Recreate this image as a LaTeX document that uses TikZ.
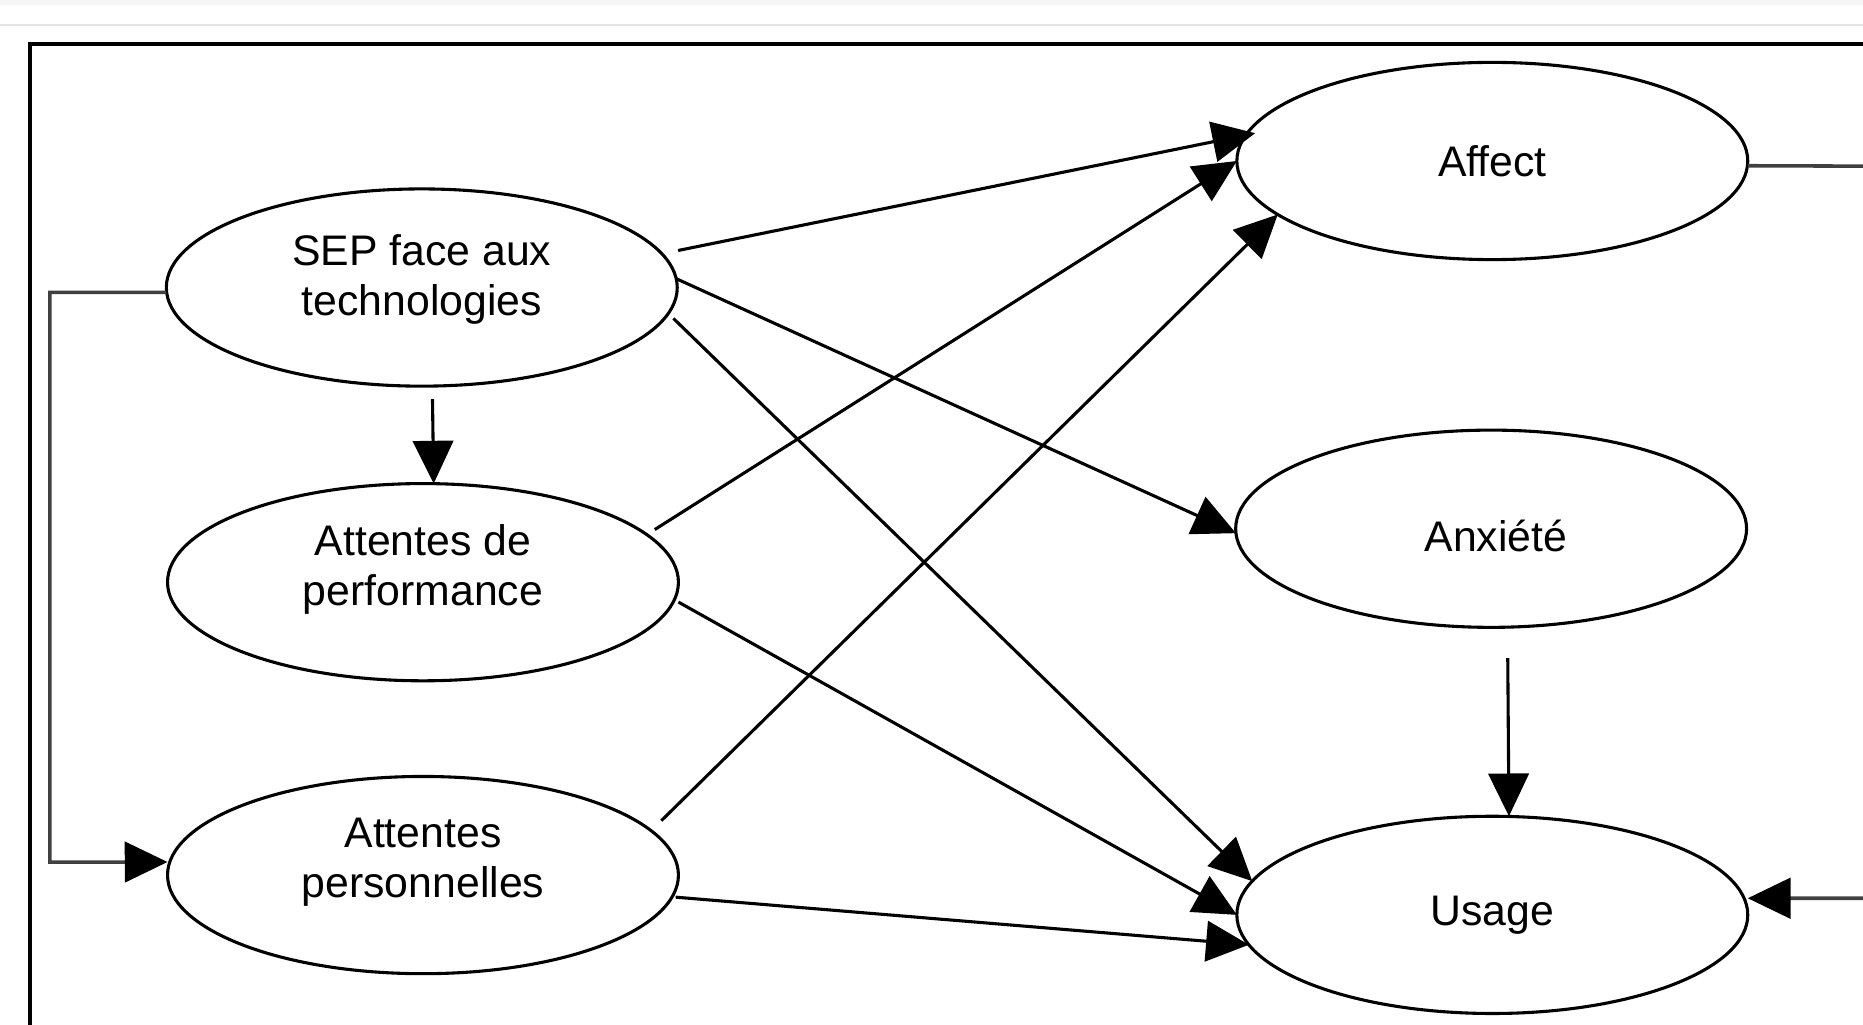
\documentclass[tikz,border=0pt]{standalone}
\usepackage{fontspec}
\setmainfont{Liberation Sans}
\usetikzlibrary{shapes.geometric,arrows.meta}
\begin{document}
\begin{tikzpicture}[x=0.5pt,y=-0.5pt,
  var/.style={ellipse,draw,line width=1.3pt,minimum width=215pt,minimum height=83pt,inner sep=0pt,outer sep=0pt},
  lbl/.style={align=center,font=\fontsize{18}{21}\selectfont,inner sep=0pt},
  arr/.style={line width=1.3pt,-{Triangle[length=18pt,width=17pt,color=black]}},
  loopl/.style={line width=1.5pt,black!75}]
\useasboundingbox (0,0) rectangle (1568,862);
\begin{scope}
\clip (0,0) rectangle (1568,862);
\fill[black!4] (0,0) rectangle (1568,4);
\draw[black!10,line width=0.8pt] (0,21) -- (1568,21);
\draw[line width=1.7pt] (25,920) |- (1620,37);

\node[var] (sep)    at (355,242)   {};
\node[var] (perf)   at (356,490)   {};
\node[var] (pers)   at (356,736.5) {};
\node[var] (affect) at (1256,135.5) {};
\node[var] (anx)    at (1255,445)  {};
\node[var] (usage)  at (1256,770)  {};

\node[lbl] (sepT)    at ([yshift=3.5pt]sep.center)   {SEP face aux\\technologies};
\node[lbl] (perfT)   at ([yshift=5.5pt]perf.center)  {Attentes de\\performance};
\node[lbl] (persT)   at ([yshift=5.5pt]pers.center)  {Attentes\\personnelles};
\node[lbl] (affectT) at (affect.center) {Affect};
\node[lbl] (anxT)    at ([xshift=2pt,yshift=-3pt]anx.center) {Anxiété};
\node[lbl] (usageT)  at (usage.center)  {Usage};

\draw[arr,shorten <=7pt,shorten >=-4pt] (sep.8) -- (affect.174);
\draw[arr] (sep.2) -- (anx.181);
\draw[arr,shorten <=3pt] (sep.-6) -- (usage.172.6);
\draw[arr] ([xshift=4.5pt,yshift=-5.5pt]sep.south) -- ([xshift=4.5pt]perf.north);
\draw[arr,shorten <=4pt] (perf.12) -- (affect.180);
\draw[arr,shorten <=2pt] (perf.-4.5) -- (usage.180.4);
\draw[arr,shorten <=6pt] (pers.11.7) -- (affect.194.3);
\draw[arr,shorten <=1.5pt] (pers.-5.3) -- (usage.187.4);
\draw[arr] ([xshift=7pt,yshift=-13pt]anx.south) -- ([xshift=7pt]usage.north);

\coordinate (lpL) at (42,725.6);
\draw[loopl,-{Triangle[length=18pt,width=17pt,color=black]}] ([yshift=-2pt]sep.west) -| (lpL) -- ([yshift=5.5pt]pers.west);
\coordinate (rA) at (1620,140);
\draw[loopl,-{Triangle[length=18pt,width=17pt,color=black]}] ([yshift=-2pt]affect.east) -- (rA) |- ([yshift=7pt]usage.east);
\end{scope}
\end{tikzpicture}
\end{document}
